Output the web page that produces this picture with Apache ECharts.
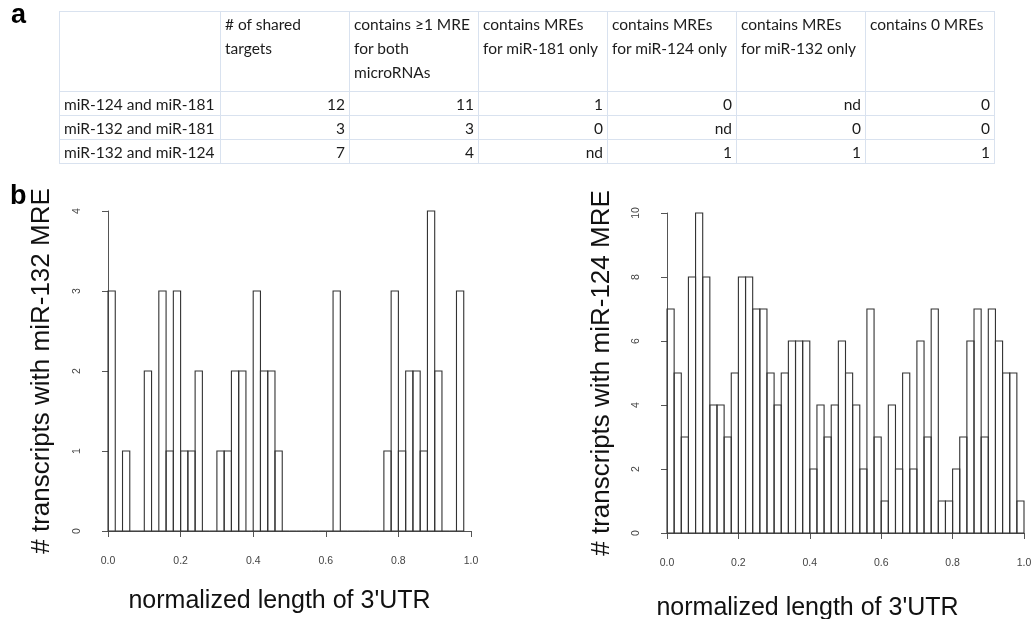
<!DOCTYPE html>
<html>
<head>
<meta charset="utf-8">
<script src="https://cdn.jsdelivr.net/npm/echarts@6/dist/echarts.min.js"></script>
<style>
  html, body { margin: 0; padding: 0; background: #fff; }
  #chart { position: absolute; left: 0; top: 0; width: 1033px; height: 619px; }
  #tbl {
    position: absolute; left: 59px; top: 11px;
    border-collapse: collapse; table-layout: fixed;
    font-family: Lato, "Noto Sans", sans-serif; font-size: 15.5px; color: #1c1c1c;
  }
  #tbl td { border: 1.5px solid #d9e2ef; padding: 0 4px; overflow: hidden; white-space: pre-line; }
  #tbl tr.head td { height: 79px; vertical-align: top; line-height: 24px; }
  #tbl tr.body td { height: 23px; line-height: 22px; text-align: right; }
  #tbl tr.body td:first-child { text-align: left; }
</style>
</head>
<body>
<div id="chart"></div>
<table id="tbl"></table>
<script>
// table (panel a)
const colHeads = ['', '# of shared\ntargets', 'contains \u22651 MRE\nfor both\nmicroRNAs',
  'contains MREs\nfor miR-181 only', 'contains MREs\nfor miR-124 only',
  'contains MREs\nfor miR-132 only', 'contains 0 MREs'];
const pairNames = ['miR-124 and miR-181', 'miR-132 and miR-181', 'miR-132 and miR-124'];
const sharedTargets = [12, 3, 7];
const bothMre = [11, 3, 4];
const only181 = ['1', '0', 'nd'];
const only124 = ['0', 'nd', '1'];
const only132 = ['nd', '0', '1'];
const zeroMre = [0, 0, 1];
const colWidths = [161, 129, 129, 129, 129, 129, 129];

// histograms (panel b), bin width 0.02
const binWidth = 0.02;
const mir132Counts = [3, 0, 1, 0, 0, 2, 0, 3, 1, 3, 1, 1, 2, 0, 0, 1, 1, 2, 2, 0,
  3, 2, 2, 1, 0, 0, 0, 0, 0, 0, 0, 3, 0, 0, 0, 0, 0, 0, 1, 3,
  1, 2, 2, 1, 4, 2, 0, 0, 3];
const mir124Counts = [7, 5, 3, 8, 10, 8, 4, 4, 3, 5, 8, 8, 7, 7, 5, 4, 5, 6, 6, 6,
  2, 4, 3, 4, 6, 5, 4, 2, 7, 3, 1, 4, 2, 5, 2, 6, 3, 7, 1, 1,
  2, 3, 6, 7, 3, 7, 6, 5, 5, 1];

// build table
const tbl = document.getElementById('tbl');
let html = '<colgroup>' + colWidths.map(w => '<col style="width:' + w + 'px">').join('') + '</colgroup>';
html += '<tr class="head">' + colHeads.map(h => '<td>' + h + '</td>').join('') + '</tr>';
pairNames.forEach((name, i) => {
  const cells = [name, sharedTargets[i], bothMre[i], only181[i], only124[i], only132[i], zeroMre[i]];
  html += '<tr class="body">' + cells.map(c => '<td>' + c + '</td>').join('') + '</tr>';
});
tbl.innerHTML = html;

function toBins(counts) {
  return counts.map((c, i) => [i * binWidth, (i + 1) * binWidth, c]);
}

function renderBin(params, api) {
  const top = api.coord([api.value(0), api.value(2)]);
  const bot = api.coord([api.value(1), 0]);
  return {
    type: 'rect',
    shape: { x: top[0], y: top[1], width: bot[0] - top[0], height: bot[1] - top[1] },
    style: { fill: null, stroke: '#333', lineWidth: 1.1 }
  };
}

const axisColor = '#555';
const tickFont = { color: '#444', fontSize: 10.5, fontFamily: 'Liberation Sans' };

function xAxisOf(grid, gap, shiftLeft) {
  return {
    gridIndex: grid, type: 'value', min: 0, max: 1, interval: 0.2, offset: 13,
    axisLine: { show: true, lineStyle: { color: axisColor, width: 1 } },
    axisTick: { show: true, length: 6, lineStyle: { color: axisColor } },
    axisLabel: Object.assign({ margin: 12, formatter: v => v.toFixed(1) }, tickFont),
    splitLine: { show: false },
    name: "normalized length of 3'UTR", nameLocation: 'middle', nameGap: gap,
    nameTextStyle: { color: '#111', fontSize: 25, fontFamily: 'Liberation Sans', padding: [0, shiftLeft * 2, 0, 0] }
  };
}

function yAxisOf(grid, max, step, label, gap) {
  return {
    gridIndex: grid, type: 'value', min: 0, max: max, interval: step, offset: 13,
    axisLine: { show: true, lineStyle: { color: axisColor, width: 1 } },
    axisTick: { show: true, length: 6, lineStyle: { color: axisColor } },
    axisLabel: Object.assign({ margin: 12, rotate: 90 }, tickFont),
    splitLine: { show: false },
    name: label, nameLocation: 'middle', nameRotate: 90, nameGap: gap,
    nameTextStyle: { color: '#111', fontSize: 26, fontFamily: 'Liberation Sans' }
  };
}

const chart = echarts.init(document.getElementById('chart'));
chart.setOption({
  backgroundColor: '#fff',
  animation: false,
  grid: [
    { left: 108, right: 562, top: 211, bottom: 88, outerBoundsMode: 'none' },
    { left: 667, right: 9, top: 213, bottom: 86, outerBoundsMode: 'none' }
  ],
  xAxis: [xAxisOf(0, 45, 10), xAxisOf(1, 50, 38)],
  yAxis: [
    yAxisOf(0, 4, 1, '# transcripts with miR-132 MRE', 40),
    yAxisOf(1, 10, 2, '# transcripts with miR-124 MRE', 39)
  ],
  graphic: [
    { type: 'text', x: 11, y: 16, style: { text: 'a', font: 'bold 27px "Liberation Sans"', fill: '#000', verticalAlign: 'middle' } },
    { type: 'text', x: 10, y: 197, style: { text: 'b', font: 'bold 27px "Liberation Sans"', fill: '#000', verticalAlign: 'middle' } }
  ],
  series: [
    { type: 'custom', xAxisIndex: 0, yAxisIndex: 0, renderItem: renderBin, data: toBins(mir132Counts), encode: { x: [0, 1], y: 2 } },
    { type: 'custom', xAxisIndex: 1, yAxisIndex: 1, renderItem: renderBin, data: toBins(mir124Counts), encode: { x: [0, 1], y: 2 } }
  ]
});
</script>
</body>
</html>
